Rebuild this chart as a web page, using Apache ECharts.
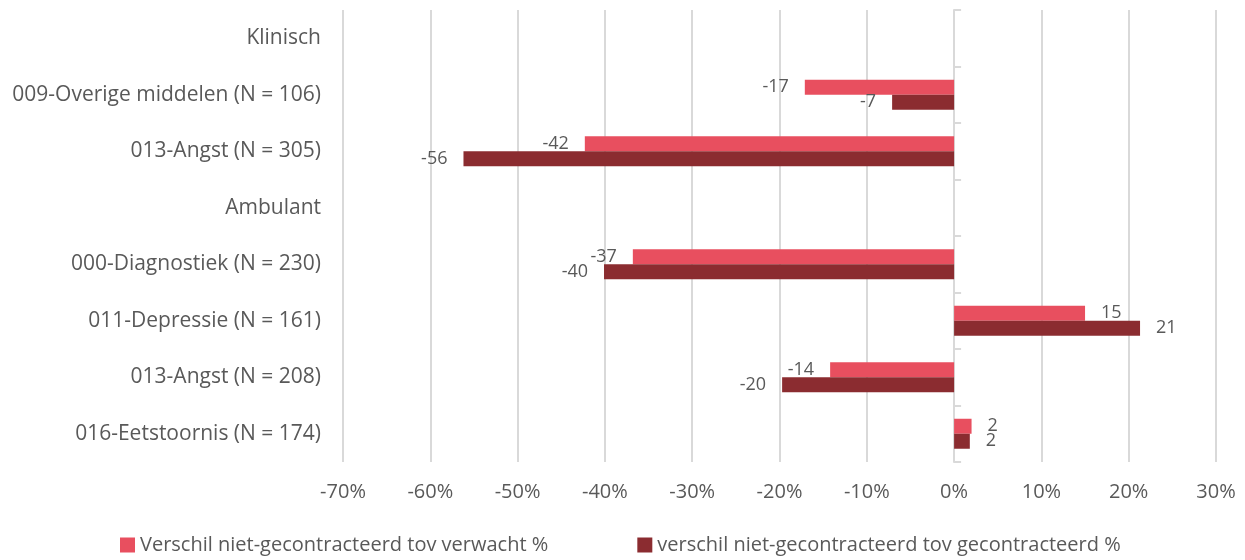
<!DOCTYPE html>
<html>
<head>
<meta charset="utf-8">
<script src="https://cdn.jsdelivr.net/npm/echarts@6/dist/echarts.min.js"></script>
<style>
html,body{margin:0;padding:0;background:#fff;}
#chart{width:1245px;height:560px;}
</style>
</head>
<body>
<div id="chart"></div>
<script>
const categories = [
  'Klinisch',
  '009-Overige middelen (N = 106)',
  '013-Angst (N = 305)',
  'Ambulant',
  '000-Diagnostiek (N = 230)',
  '011-Depressie (N = 161)',
  '013-Angst (N = 208)',
  '016-Eetstoornis (N = 174)'
];
const seriesNames = [
  'Verschil niet-gecontracteerd tov verwacht %',
  'verschil niet-gecontracteerd tov gecontracteerd %'
];
const verwacht = [null, -17.1, -42.3, null, -36.8, 15.0, -14.2, 2.0];
const gecontracteerd = [null, -7.1, -56.2, null, -40.1, 21.3, -19.7, 1.8];
const xTicks = { min: -70, max: 30, interval: 10 };

const FONT = 'Open Sans';
const TXT = '#595959';
const GRIDC = '#D9D9D9';

function toData(arr) {
  return arr.map(v => v === null ? null : {
    value: v,
    label: { position: v < 0 ? 'left' : 'right' }
  });
}

const chart = echarts.init(document.getElementById('chart'));
const gridLeft = 343, gridRight = 29;
const plotW = 1245 - gridLeft - gridRight;
const zeroOffset = -plotW * (0 - xTicks.min) / (xTicks.max - xTicks.min);

chart.setOption({
  animation: false,
  textStyle: { fontFamily: FONT },
  grid: { left: gridLeft, right: gridRight, top: 10, bottom: 98, containLabel: false },
  legend: {
    bottom: 0,
    left: 115,
    itemWidth: 15, itemHeight: 15, itemGap: 89,
    icon: 'rect',
    textStyle: { fontFamily: FONT, fontSize: 20, color: TXT },
    data: seriesNames
  },
  xAxis: {
    type: 'value',
    min: xTicks.min, max: xTicks.max, interval: xTicks.interval,
    axisLine: { show: false },
    axisTick: { show: false },
    splitLine: { lineStyle: { color: GRIDC, width: 2 } },
    axisLabel: { formatter: '{value}%', fontSize: 20, color: TXT, fontFamily: FONT, margin: 20 }
  },
  yAxis: [
    {
      type: 'category', data: categories, inverse: true,
      axisLine: { show: false }, axisTick: { show: false },
      axisLabel: { fontSize: 21, color: TXT, fontFamily: FONT, margin: 22 }
    },
    {
      type: 'category', data: categories, inverse: true,
      position: 'left', offset: zeroOffset,
      axisLine: { show: true, onZero: false, lineStyle: { color: GRIDC, width: 2 } },
      axisTick: { show: true, inside: true, length: 7, lineStyle: { color: GRIDC, width: 2 } },
      axisLabel: { show: false },
      splitLine: { show: false }
    }
  ],
  series: [
    {
      name: seriesNames[0], type: 'bar', yAxisIndex: 0,
      data: toData(verwacht),
      barWidth: 15, barGap: '0%',
      itemStyle: { color: '#E84F5F' },
      label: { show: true, fontSize: 18, color: TXT, fontFamily: FONT, distance: 16,
        formatter: p => Math.round(p.value) }
    },
    {
      name: seriesNames[1], type: 'bar', yAxisIndex: 0,
      data: toData(gecontracteerd),
      barWidth: 15, barGap: '0%',
      itemStyle: { color: '#8B2C30' },
      label: { show: true, fontSize: 18, color: TXT, fontFamily: FONT, distance: 16,
        formatter: p => Math.round(p.value) }
    }
  ]
});
</script>
</body>
</html>
